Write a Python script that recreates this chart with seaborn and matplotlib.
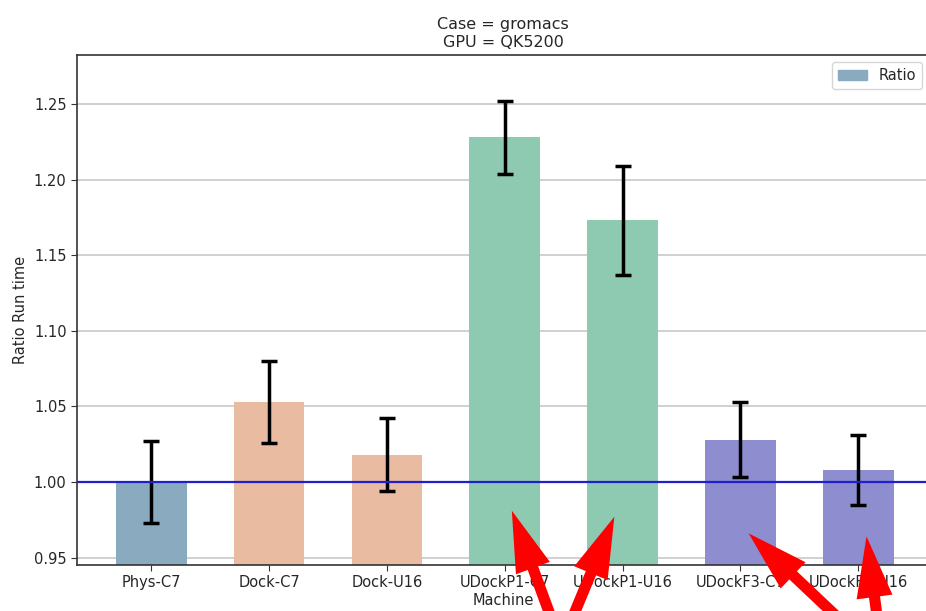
import matplotlib
matplotlib.use('Agg')
import matplotlib.pyplot as plt
import seaborn as sns
import pandas as pd
import numpy as np
from matplotlib.patches import Patch

# values
machines = ['Phys-C7', 'Dock-C7', 'Dock-U16', 'UDockP1-C7', 'UDockP1-U16', 'UDockF3-C7', 'UDockF3-U16']
ratio = [1.000, 1.053, 1.018, 1.228, 1.173, 1.028, 1.008]
ratio_err = [0.027, 0.027, 0.024, 0.024, 0.036, 0.025, 0.023]
bar_colors = ['#8aaabf', '#e9bba1', '#8dcab1', '#8d8dcf']
color_group = [0, 1, 1, 2, 2, 3, 3]

df = pd.DataFrame({'Machine': machines, 'Ratio': ratio, 'err': ratio_err})

sns.set_style('whitegrid')
plt.rcParams['font.family'] = ['DejaVu Sans']

fig = plt.figure(figsize=(9.26, 6.11), dpi=100)
ax = fig.add_axes([0.0832, 0.0753, 0.92, 0.8347])

palette = [bar_colors[g] for g in color_group]
sns.barplot(data=df, x='Machine', y='Ratio', hue='Machine', palette=palette,
            width=0.6, saturation=1, legend=False, ax=ax, zorder=2,
            edgecolor='none', linewidth=0)
ax.errorbar(np.arange(len(machines)), df['Ratio'], yerr=df['err'], fmt='none',
            ecolor='black', elinewidth=2.5, capsize=6, capthick=2.5, zorder=4)
ax.axhline(1.0, color='#1f1fd0', lw=1.6, zorder=5)

ax.set_xlim(-0.63, 6.60)
ax.set_ylim(0.9451, 1.2824)
ax.set_yticks([0.95, 1.00, 1.05, 1.10, 1.15, 1.20, 1.25])
ax.set_yticklabels(['0.95', '1.00', '1.05', '1.10', '1.15', '1.20', '1.25'])
ax.set_xlabel('Machine', fontsize=10.5, labelpad=2)
ax.set_ylabel('Ratio Run time', fontsize=10.5)
ax.tick_params(axis='both', labelsize=10.5, length=4, color='#333333', left=True, bottom=True)
ax.grid(axis='x', visible=False)
ax.grid(axis='y', color='#c8c8c8', lw=1.2)
ax.set_axisbelow(True)
for s in ['left', 'top', 'bottom', 'right']:
    ax.spines[s].set_color('#333333')
    ax.spines[s].set_linewidth(1.2)
ax.set_title('Case = gromacs\nGPU = QK5200', fontsize=11.5)

ax.legend(handles=[Patch(color=bar_colors[0], label='Ratio')], loc='upper right',
          fontsize=10.5, frameon=True, fancybox=True)

# red arrows pointing at the bars (tips in data coords, tails below the figure)
arrows = [((3.06, 0.981), (556, -20)), ((3.93, 0.977), (567, -20)),
          ((5.07, 0.966), (852, -20)), ((6.07, 0.964), (879, -20))]
for tip, tail in arrows:
    ax.annotate('', xy=tip, xycoords='data', xytext=tail, textcoords='figure pixels',
                arrowprops=dict(arrowstyle='simple,head_length=4.4,head_width=2.6,tail_width=0.8',
                                mutation_scale=10, facecolor='#ff0000', edgecolor='none',
                                lw=0, shrinkA=0, shrinkB=0),
                annotation_clip=False, zorder=10)

fig.savefig('out.png', dpi=100)
